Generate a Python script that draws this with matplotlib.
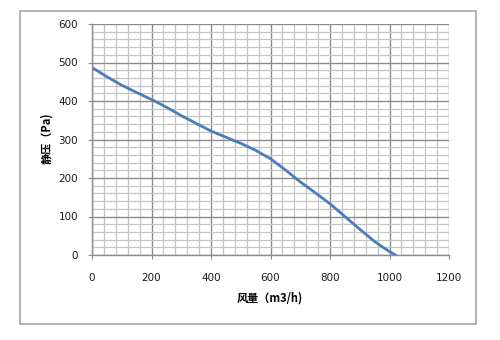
import matplotlib.pyplot as plt
from matplotlib.patches import Rectangle
from matplotlib.ticker import MultipleLocator

# --- Chart data ---
airflow = [0, 50, 100, 150, 200, 250, 300, 350, 400, 450, 500, 550, 600,
           650, 700, 750, 800, 850, 900, 950, 980, 1000, 1020]
pressure = [487, 463, 441, 422, 404, 384, 362, 342, 322, 306, 290, 272, 250,
            221, 190, 162, 133, 100, 67, 35, 19, 9, 0]

x_label = "风量（m3/h)"
y_label = "静压（Pa)"

plt.rcParams['font.family'] = ['Noto Sans CJK SC', 'DejaVu Sans']

fig = plt.figure(figsize=(5, 3.4), dpi=100)

# Outer chart frame, like the spreadsheet chart area border
fig.patches.append(Rectangle((20 / 500, 1 - 324 / 340), 456 / 500, 313 / 340,
                             transform=fig.transFigure, fill=False,
                             edgecolor='#a6a6a6', linewidth=1.2))

ax = fig.add_axes([92 / 500, 1 - 255 / 340, 357 / 500, 231 / 340])

ax.plot(airflow, pressure, color='#4a7ebb', linewidth=2.0,
        solid_joinstyle='round')

ax.set_xlim(0, 1200)
ax.set_ylim(0, 600)
ax.xaxis.set_major_locator(MultipleLocator(200))
ax.xaxis.set_minor_locator(MultipleLocator(40))
ax.yaxis.set_major_locator(MultipleLocator(100))
ax.yaxis.set_minor_locator(MultipleLocator(20))

ax.grid(which='minor', color='#c4c4c4', linewidth=0.9)
ax.grid(which='major', color='#8c8c8c', linewidth=1.0)
ax.set_axisbelow(True)

for side in ['top', 'right']:
    ax.spines[side].set_visible(False)
for side in ['left', 'bottom']:
    ax.spines[side].set_color('#8c8c8c')
    ax.spines[side].set_linewidth(1.0)

ax.tick_params(which='major', direction='out', length=3, color='#8c8c8c',
               labelsize=7.5, labelcolor='#1a1a1a')
ax.tick_params(axis='x', which='major', pad=10)
ax.tick_params(axis='y', which='major', pad=7)
ax.tick_params(which='minor', length=0)

for lbl in ax.get_xticklabels() + ax.get_yticklabels():
    lbl.set_family('DejaVu Sans')

fig.text(270 / 500, 1 - 298 / 340, x_label, ha='center', va='center',
         fontsize=8, fontweight='bold')
fig.text(47 / 500, 1 - 138 / 340, y_label, ha='center', va='center',
         fontsize=8, fontweight='bold', rotation=90)

fig.savefig('out.png', dpi=100)
